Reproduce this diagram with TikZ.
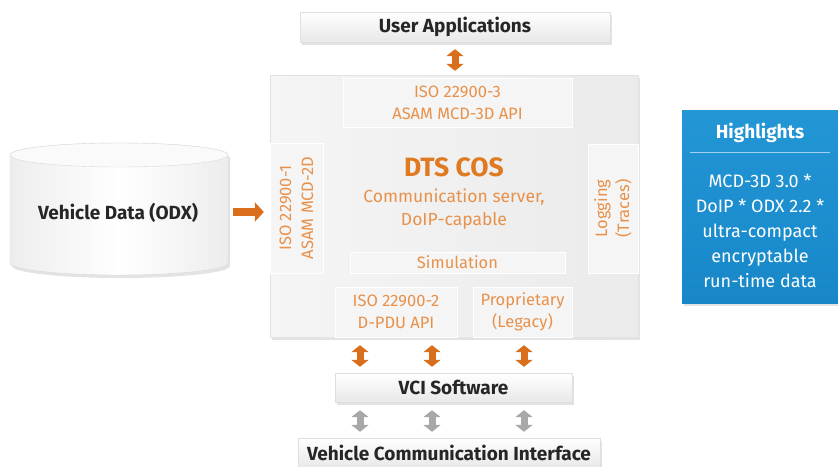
\documentclass[tikz,border=0pt]{standalone}
\usepackage{fontspec}
\setmainfont{Fira Sans}
\usetikzlibrary{shadows,arrows.meta,calc}
\definecolor{otext}{HTML}{E8914A}
\definecolor{odark}{HTML}{E07A22}
\definecolor{oarrow}{HTML}{D96F1C}
\definecolor{garrow}{HTML}{A8A8A8}
\definecolor{hlblue}{HTML}{1787C8}
\definecolor{hltop}{HTML}{2396D6}
\definecolor{mainfill}{HTML}{E9E9E9}
\definecolor{innerfill}{HTML}{F5F5F5}
\begin{document}
\begin{tikzpicture}[x=1pt,y=-1pt,
  shad/.style={drop shadow={opacity=0.22,shadow xshift=2pt,shadow yshift=-3pt}},
  topbox/.style={shad,top color=white,bottom color=gray!18,draw=gray!25,line width=0.3pt,inner sep=0pt,
     font=\fontsize{19}{22}\selectfont\bfseries,text=black!85},
  mainbox/.style={shad,left color=gray!8,right color=gray!16,draw=gray!22,line width=0.3pt,inner sep=0pt},
  inbox/.style={fill=innerfill,draw=white,line width=0.4pt,inner sep=0pt,align=center,
     text=otext,font=\fontsize{16.5}{22}\selectfont},
  oarr/.style={line width=7pt,draw=oarrow,{Triangle[width=17pt,length=7pt]}-{Triangle[width=17pt,length=7pt]}},
  garr/.style={line width=7pt,draw=garrow,{Triangle[width=17pt,length=7pt]}-{Triangle[width=17pt,length=7pt]}},
  rarr/.style={line width=8pt,draw=oarrow,-{Triangle[width=19pt,length=9pt]}},
  hltext/.style={text=white,align=center,inner sep=0pt}
]
\useasboundingbox (0,0) rectangle (838,466);

% top box
\node[topbox,minimum width=310,minimum height=30] (ua) at (455,27) {User Applications};

% main box
\node[mainbox,minimum width=368,minimum height=262] (main) at (454,206) {};
\node[inbox,minimum width=229,minimum height=49] (iso3) at (457.5,102.5) {ISO 22900-3\\ASAM MCD-3D API};
\node[inbox,minimum width=130,minimum height=53,rotate=90] (iso1) at (296.5,208) {ISO 22900-1\\ASAM MCD-2D};
\node[inbox,minimum width=129,minimum height=50,rotate=90] (log) at (613,208.5) {Logging\\(Traces)};
\node[text=odark,font=\fontsize{26.5}{30}\selectfont\bfseries,inner sep=0pt] (dts) at (454,167) {DTS COS};
\node[text=otext,font=\fontsize{17.5}{23}\selectfont,align=center,inner sep=0pt] (comm) at (454,209) {Communication server,\\DoIP-capable};
\node[inbox,minimum width=215,minimum height=21] (sim) at (457.5,262.5) {Simulation};
\node[inbox,minimum width=122,minimum height=50] (iso2) at (396,312) {ISO 22900-2\\D-PDU API};
\node[inbox,minimum width=99,minimum height=50] (prop) at (522.5,312) {Proprietary\\(Legacy)};

% lower boxes
\node[topbox,minimum width=237,minimum height=29] (vci) at (453.5,387.5) {VCI Software};
\node[topbox,minimum width=302,minimum height=30] (vcom) at (449,453) {Vehicle Communication Interface};

% cylinder
\path[shad,left color=gray!14,right color=gray!14,middle color=white,draw=gray!30,line width=0.4pt]
  (10,155) -- (10,263) arc[start angle=180,end angle=0,x radius=109,y radius=12]
  -- (228,155) arc[start angle=0,end angle=-180,x radius=109,y radius=12] -- cycle;
\draw[gray!30,line width=0.4pt,fill=white!96!gray] (119,155) ellipse[x radius=109,y radius=12];
\node[font=\fontsize{19}{22}\selectfont\bfseries,text=black!85,inner sep=0pt] (db) at (118,213) {Vehicle Data (ODX)};
\coordinate (dbr) at (228,212);

% highlights
\node[shad,top color=hltop,bottom color=hlblue,minimum width=156,minimum height=193,inner sep=0pt] (hl) at (760,206.5) {};
\node[hltext,font=\fontsize{19}{22}\selectfont\bfseries] (hlh) at (760,133) {Highlights};
\draw[white!60!hlblue,line width=0.6pt] ($(hl.west)+(8,-54.5)$) coordinate (sl) -- ($(hl.east)+(-8,-54.5)$) coordinate (sr);
\node[hltext,font=\fontsize{18}{25}\selectfont] (hlb) at (760,231) {MCD-3D 3.0 *\\DoIP * ODX 2.2 *\\ultra-compact\\encryptable\\run-time data};

% arrows
\coordinate (a1) at (360,0);
\coordinate (a2) at (432,0);
\coordinate (a3) at (524,0);
\draw[oarr,shorten <=7pt,shorten >=4pt] (ua.south) -- (ua.south |- main.north);
\draw[oarr,shorten <=8pt,shorten >=6pt] (iso2.south -| a1) -- (vci.north -| a1);
\draw[oarr,shorten <=8pt,shorten >=6pt] (iso2.south -| a2) -- (vci.north -| a2);
\draw[oarr,shorten <=8pt,shorten >=6pt] (prop.south -| a3) -- (vci.north -| a3);
\draw[garr,shorten <=8pt,shorten >=6pt] (vci.south -| a1) -- (vcom.north -| a1);
\draw[garr,shorten <=8pt,shorten >=6pt] (vci.south -| a2) -- (vcom.north -| a2);
\draw[garr,shorten <=8pt,shorten >=6pt] (vci.south -| a3) -- (vcom.north -| a3);
\draw[rarr,shorten <=5pt,shorten >=6pt] (dbr) -- (dbr -| main.west);
\end{tikzpicture}
\end{document}
